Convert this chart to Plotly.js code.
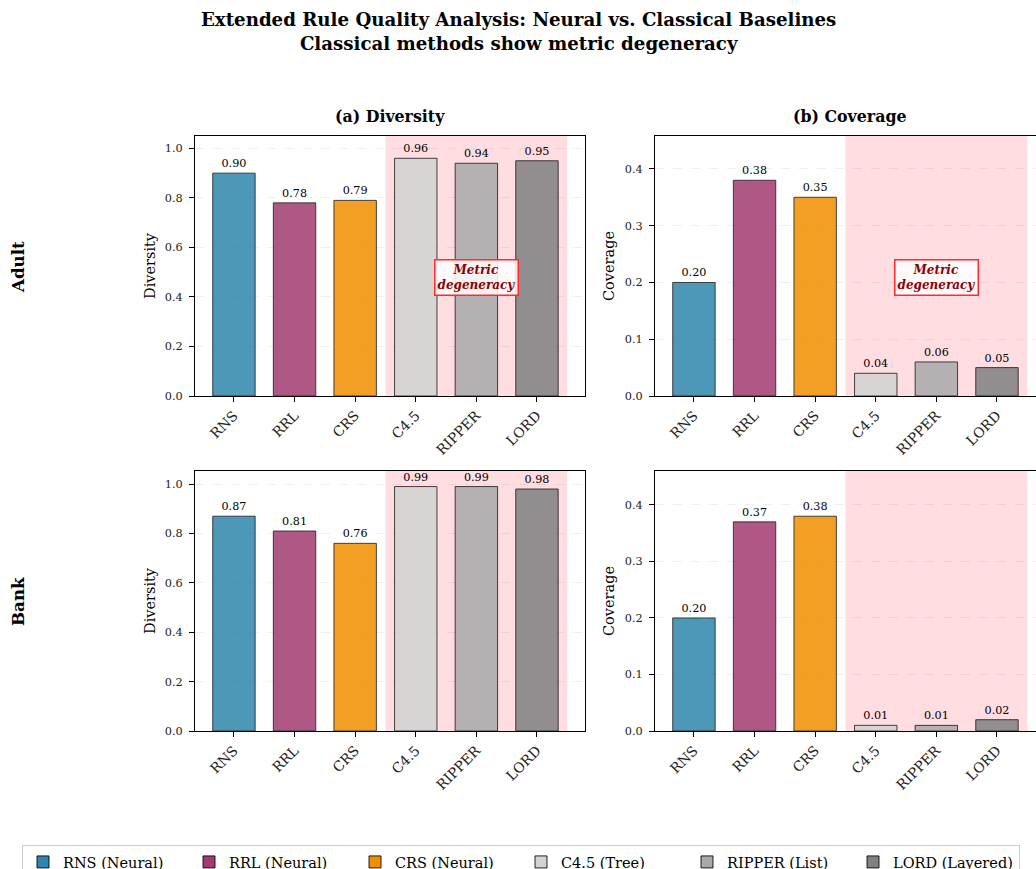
<!DOCTYPE html>
<html>
<head>
<meta charset="utf-8">
<script src="https://cdn.plot.ly/plotly-3.0.1.min.js"></script>
<style>
html,body{margin:0;padding:0;overflow:hidden;background:#fff;}
#chart{width:1060px;height:880px;}
</style>
</head>
<body>
<div id="chart"></div>
<script>
const methods = ['RNS', 'RRL', 'CRS', 'C4.5', 'RIPPER', 'LORD'];
const legendLabels = ['RNS (Neural)', 'RRL (Neural)', 'CRS (Neural)', 'C4.5 (Tree)', 'RIPPER (List)', 'LORD (Layered)'];
const colors = ['#2E86AB', '#A23B72', '#F18F01', '#D3D3D3', '#A9A9A9', '#808080'];

const adultDiversity = [0.90, 0.78, 0.79, 0.96, 0.94, 0.95];
const adultCoverage  = [0.20, 0.38, 0.35, 0.04, 0.06, 0.05];
const bankDiversity  = [0.87, 0.81, 0.76, 0.99, 0.99, 0.98];
const bankCoverage   = [0.20, 0.37, 0.38, 0.01, 0.01, 0.02];

const W = 1060, H = 880;
const FONT = 'DejaVu Serif, serif';
const px = v => v / W;
const py = v => 1 - v / H;

const panels = [
  {vals: adultDiversity, ax: '', range: [0, 1.05], dtick: 0.2, note: true},
  {vals: adultCoverage,  ax: '2', range: [0, 0.458], dtick: 0.1, note: true},
  {vals: bankDiversity,  ax: '3', range: [0, 1.053], dtick: 0.2, note: false},
  {vals: bankCoverage,   ax: '4', range: [0, 0.46], dtick: 0.1, note: false}
];

const xDomains = [[px(195), px(585)], [px(655), px(1045)]];
const yDomains = [[py(396), py(136)], [py(731), py(471)]];

const traces = [];
const shapes = [];
const annotations = [];
const layout = {
  width: W, height: H,
  margin: {l: 0, r: 0, t: 0, b: 0},
  paper_bgcolor: '#fff', plot_bgcolor: '#fff',
  font: {family: FONT, size: 11, color: '#000'},
  barmode: 'overlay',
  showlegend: true,
  legend: {
    orientation: 'h', x: px(22), xanchor: 'left', y: py(845), yanchor: 'top',
    bordercolor: '#cccccc', borderwidth: 1, bgcolor: '#fff',
    entrywidth: 121, entrywidthmode: 'pixels',
    font: {family: FONT, size: 14.5, color: '#000'}, traceorder: 'normal'
  }
};

panels.forEach((p, k) => {
  const col = k % 2, row = Math.floor(k / 2);
  const xa = 'x' + p.ax, ya = 'y' + p.ax;
  methods.forEach((m, i) => {
    traces.push({
      type: 'bar', x: [m], y: [p.vals[i]], xaxis: xa, yaxis: ya,
      width: 0.7, name: legendLabels[i], legendgroup: m, showlegend: k === 0,
      marker: {color: colors[i], opacity: 0.85, line: {color: 'rgba(0,0,0,0.85)', width: 1}},
      texttemplate: '%{y:.2f}', textposition: 'outside', cliponaxis: false,
      constraintext: 'none', textfont: {family: FONT, size: 11.2, color: '#000'},
      hoverinfo: 'x+y'
    });
  });
  layout['xaxis' + p.ax] = {
    domain: xDomains[col], anchor: ya, type: 'category',
    categoryorder: 'array', categoryarray: methods,
    range: [-0.6425, 5.7925], tickangle: -45,
    showline: true, linecolor: '#000', linewidth: 1, mirror: true,
    ticks: 'outside', ticklen: 5, tickcolor: '#000', showgrid: false,
    tickfont: {family: FONT, size: 13.9, color: '#222'}, automargin: false, fixedrange: true
  };
  layout['yaxis' + p.ax] = {
    domain: yDomains[row], anchor: xa, range: p.range, dtick: p.dtick, tick0: 0,
    tickformat: '.1f',
    showline: true, linecolor: '#000', linewidth: 1, mirror: true,
    ticks: 'outside', ticklen: 5, tickcolor: '#000', ticklabelstandoff: 4,
    showgrid: true, gridcolor: 'rgba(0,0,0,0.08)', griddash: 'dash', gridwidth: 0.8,
    zeroline: false,
    tickfont: {family: FONT, size: 11.3, color: '#222'}, automargin: false, fixedrange: true
  };
  shapes.push({
    type: 'rect', xref: xa, yref: ya + ' domain', x0: 2.5, x1: 5.5, y0: 0, y1: 1,
    fillcolor: '#FFDDE0', line: {width: 0}, layer: 'below'
  });
  if (p.note) {
    annotations.push({
      xref: xa, yref: ya + ' domain', x: 4, y: 0.455, xanchor: 'center', yanchor: 'middle',
      text: '<b><i>Metric<br>degeneracy</i></b>', showarrow: false,
      font: {family: FONT, size: 12, color: '#8B0000'},
      bgcolor: 'rgba(255,255,255,0.85)', bordercolor: '#FF2B2B', borderwidth: 1.5, borderpad: 2
    });
  }
  const yTitle = col === 0 ? 'Diversity' : 'Coverage';
  const yCenter = row === 0 ? 266 : 601;
  annotations.push({
    xref: 'paper', yref: 'paper', x: px(col === 0 ? 150 : 609), y: py(yCenter),
    text: yTitle, textangle: -90, showarrow: false, xanchor: 'center', yanchor: 'middle',
    font: {family: FONT, size: 14.5, color: '#000'}
  });
});

annotations.push({
  xref: 'paper', yref: 'paper', x: px(518), y: py(31), xanchor: 'center', yanchor: 'middle',
  text: '<b>Extended Rule Quality Analysis: Neural vs. Classical Baselines<br>Classical methods show metric degeneracy</b>',
  showarrow: false, font: {family: FONT, size: 18.2, color: '#000'}
});
annotations.push({
  xref: 'paper', yref: 'paper', x: px(390), y: py(116), xanchor: 'center', yanchor: 'middle',
  text: '<b>(a) Diversity</b>', showarrow: false, font: {family: FONT, size: 15.8, color: '#000'}
});
annotations.push({
  xref: 'paper', yref: 'paper', x: px(850), y: py(116), xanchor: 'center', yanchor: 'middle',
  text: '<b>(b) Coverage</b>', showarrow: false, font: {family: FONT, size: 15.8, color: '#000'}
});
annotations.push({
  xref: 'paper', yref: 'paper', x: px(18), y: py(267), xanchor: 'center', yanchor: 'middle',
  text: '<b>Adult</b>', textangle: -90, showarrow: false, font: {family: FONT, size: 16.7, color: '#000'}
});
annotations.push({
  xref: 'paper', yref: 'paper', x: px(18), y: py(602), xanchor: 'center', yanchor: 'middle',
  text: '<b>Bank</b>', textangle: -90, showarrow: false, font: {family: FONT, size: 16.7, color: '#000'}
});

layout.shapes = shapes;
layout.annotations = annotations;

Plotly.newPlot('chart', traces, layout, {staticPlot: true, displayModeBar: false});
</script>
</body>
</html>
